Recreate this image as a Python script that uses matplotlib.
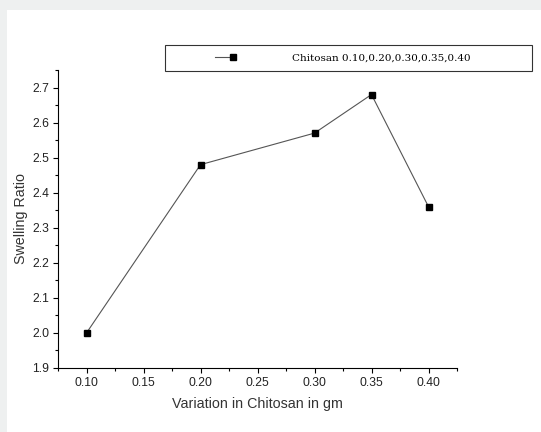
import matplotlib.pyplot as plt
from matplotlib.patches import Rectangle
from matplotlib.lines import Line2D
from matplotlib.legend_handler import HandlerBase
from matplotlib.ticker import MultipleLocator

# data
chitosan = [0.10, 0.20, 0.30, 0.35, 0.40]
swelling = [2.00, 2.48, 2.57, 2.68, 2.36]
legend_label = 'Chitosan 0.10,0.20,0.30,0.35,0.40'


# legend handle: short line with the marker at its right end
class RightMarkerHandler(HandlerBase):
    def create_artists(self, legend, orig_handle, xdescent, ydescent, width, height,
                       fontsize, trans):
        y = height / 2 - ydescent
        x0 = -xdescent + 0.64 * width
        x1 = -xdescent + 0.93 * width
        ln = Line2D([x0, x1], [y, y], color=orig_handle.get_color(),
                    linewidth=orig_handle.get_linewidth(), transform=trans)
        mk = Line2D([x1], [y], linestyle='none', marker='s',
                    markersize=orig_handle.get_markersize(),
                    markerfacecolor='black', markeredgecolor='black', transform=trans)
        return [ln, mk]


plt.rcParams['font.family'] = ['Liberation Sans', 'DejaVu Sans']

fig = plt.figure(figsize=(5.41, 4.32), dpi=100, facecolor='#eef0f0')
# white page area on the grey border
fig.patches.append(Rectangle((7 / 541, 0), 1, 1 - 10 / 432, transform=fig.transFigure,
                             facecolor='white', edgecolor='none', zorder=-1))

ax = fig.add_axes([58 / 541, 64 / 432, 399 / 541, 298 / 432])
ax.set_facecolor('none')

line, = ax.plot(chitosan, swelling, color='#555555', linewidth=0.8, marker='s',
                markersize=4.5, markerfacecolor='black', markeredgecolor='black',
                label=legend_label)

ax.set_xlim(0.075, 0.425)
ax.set_ylim(1.9, 2.75)
ax.xaxis.set_major_locator(MultipleLocator(0.05))
ax.xaxis.set_minor_locator(MultipleLocator(0.025))
ax.yaxis.set_major_locator(MultipleLocator(0.1))
ax.yaxis.set_minor_locator(MultipleLocator(0.05))
ax.xaxis.set_major_formatter(plt.FormatStrFormatter('%.2f'))
ax.yaxis.set_major_formatter(plt.FormatStrFormatter('%.1f'))

for side in ['top', 'right']:
    ax.spines[side].set_visible(False)
for side in ['left', 'bottom']:
    ax.spines[side].set_linewidth(0.8)

ax.tick_params(which='major', direction='out', length=3.5, width=0.8, labelsize=8.7,
               pad=3, labelcolor='#222222')
ax.tick_params(which='minor', direction='out', length=2.5, width=0.8)

ax.set_xlabel('Variation in Chitosan in gm', fontsize=10.3, labelpad=6, color='#333333')
ax.set_ylabel('Swelling Ratio', fontsize=10.3, labelpad=3, color='#333333')

leg = fig.legend(handles=[line], loc='upper left',
                 bbox_to_anchor=(165 / 541, 1 - 45 / 432 - 0.01, 367 / 541, 0.01),
                 mode='expand', borderaxespad=0, fancybox=False, frameon=True,
                 edgecolor='black', borderpad=0.8, handlelength=6.2, handletextpad=5.2,
                 handler_map={line: RightMarkerHandler()},
                 prop={'family': 'DejaVu Serif', 'size': 7.5})
leg.get_frame().set_linewidth(0.8)

fig.savefig('out.png', dpi=100, facecolor=fig.get_facecolor())
